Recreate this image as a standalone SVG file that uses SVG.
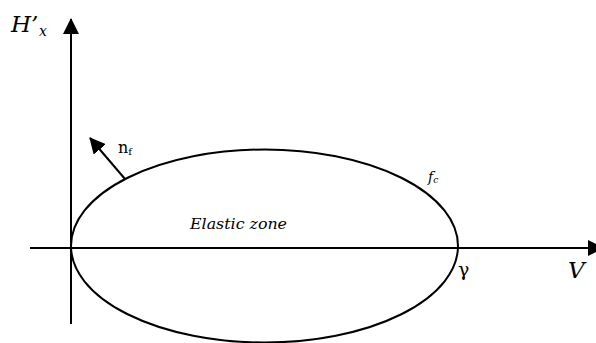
<svg xmlns="http://www.w3.org/2000/svg" width="596" height="343" viewBox="0 0 596 343">
<style>
.ax{stroke:#000;stroke-width:2;fill:none}
text{font-family:'DejaVu Serif',serif;fill:#000}
.i{font-style:italic}
</style>
<defs>
<marker id="ah" markerWidth="8" markerHeight="8" refX="7.5" refY="4" orient="auto" markerUnits="strokeWidth">
<path d="M0,0 L8,4 L0,8 Z" fill="#000"/>
</marker>
</defs>
<g id="connectors">
<line class="ax" x1="71" y1="324" x2="71" y2="19" marker-end="url(#ah)"/>
<line class="ax" x1="30" y1="248" x2="603" y2="248" marker-end="url(#ah)"/>
<line x1="125" y1="179" x2="90" y2="138" stroke="#000" stroke-width="2" marker-end="url(#ah)"/>
</g>
<g id="ellipse">
<ellipse class="ax" cx="264.5" cy="246" rx="193.5" ry="96.5"/>
</g>
<g id="labels">
<text class="i" x="11" y="32" font-size="23">H’</text>
<text class="i" x="39" y="36" font-size="14">x</text>
<text x="118" y="153" font-size="16">n<tspan font-size="10" dy="2">f</tspan></text>
<text class="i" x="428" y="182" font-size="14">f<tspan font-size="9" dy="1">c</tspan></text>
<text class="i" x="190" y="229" font-size="14" textLength="97" lengthAdjust="spacingAndGlyphs">Elastic zone</text>
<text x="458" y="276" font-size="19">γ</text>
<text class="i" x="568" y="278" font-size="23">V</text>
</g>
</svg>
